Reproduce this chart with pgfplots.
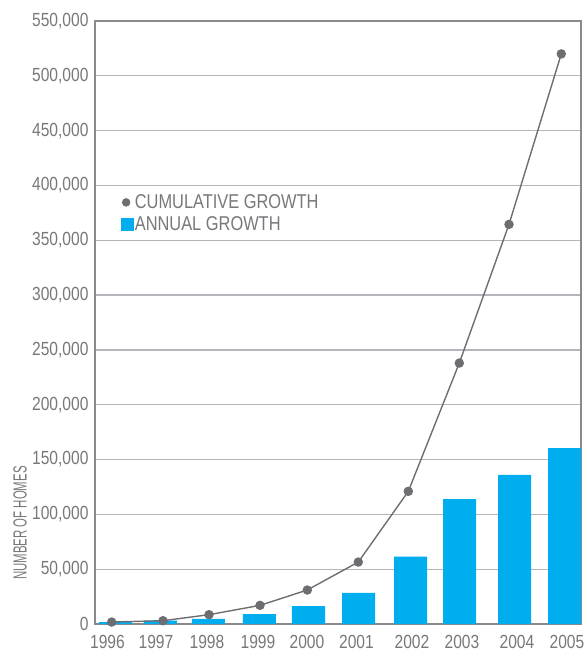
\documentclass[border=0pt]{standalone}
\usepackage{fontspec}
\setmainfont{Liberation Sans}[FakeStretch=0.82]
\newfontfamily\narrowfont{Liberation Sans}[FakeStretch=0.6]
\usepackage{pgfplots}
\pgfplotsset{compat=1.18}

\definecolor{barblue}{HTML}{00AEEF}
\definecolor{linegray}{HTML}{6D6E71}
\definecolor{textgray}{HTML}{77787B}
\definecolor{gridgray}{HTML}{B5B5BB}
\definecolor{framegray}{HTML}{8A8A8C}

\begin{document}
\begin{tikzpicture}
\begin{axis}[
  scale only axis,
  width=486pt, height=603pt,
  xmin=95, xmax=581,
  ymin=0, ymax=550000,
  axis line style={framegray, line width=1.6pt},
  xtick={107.5,156,207,258,307,356.5,412,462,517,567},
  xticklabels={1996,1997,1998,1999,2000,2001,2002,2003,2004,2005},
  ytick={0,50000,...,550000},
  major tick length=0pt,
  ymajorgrids,
  grid style={gridgray, line width=1.3pt},
  scaled y ticks=false,
  /pgf/number format/assume math mode=true,
  yticklabel={\pgfmathprintnumber[fixed,1000 sep={,}]{\tick}},
  tick label style={font=\fontsize{19}{19}\selectfont, text=textgray},
  yticklabel style={xshift=-3pt},
  xticklabel style={yshift=-8pt},
  ylabel={\narrowfont NUMBER OF HOMES},
  ylabel style={font=\fontsize{19}{19}\selectfont, text=textgray,
    at={(axis description cs:-0.154,0.1675)}, anchor=center},
  legend style={draw=none, fill=none, at={(axis description cs:0.054,0.714)},
    anchor=north west, font=\fontsize{20}{20}\selectfont, text=textgray,
    inner sep=0pt, row sep=4pt,
    nodes={inner sep=1pt}},
  legend cell align=left,
]
\addplot[ybar, bar width=33, fill=barblue, draw=none, forget plot] coordinates {
(115.5,1800) (160.5,3000) (208.5,4600) (259.5,9100) (308.5,16400)
(358.5,28500) (410.5,61400) (459.5,114000) (514.5,136000) (564.5,160500)
};
\addplot[linegray, line width=1.4pt, mark=*, mark size=4pt,
  mark options={fill=linegray, draw=none}, forget plot] coordinates {
(111.7,1800) (163,3000) (209,8500) (260,17000) (307.3,31000)
(358.3,56500) (408.3,121000) (459.3,238000) (509,364500) (561.3,520000)
};
\addlegendimage{legend image code/.code={\fill[linegray] (0.45em,0) circle (4pt);}}
\addlegendentry{CUMULATIVE GROWTH}
\addlegendimage{legend image code/.code={\fill[barblue] (0pt,-6pt) rectangle (12pt,6pt);}}
\addlegendentry{ANNUAL GROWTH}
\end{axis}
\pgfresetboundingbox
\path[use as bounding box] (-95pt,-30pt) rectangle (491pt,624pt);
\end{tikzpicture}
\end{document}
